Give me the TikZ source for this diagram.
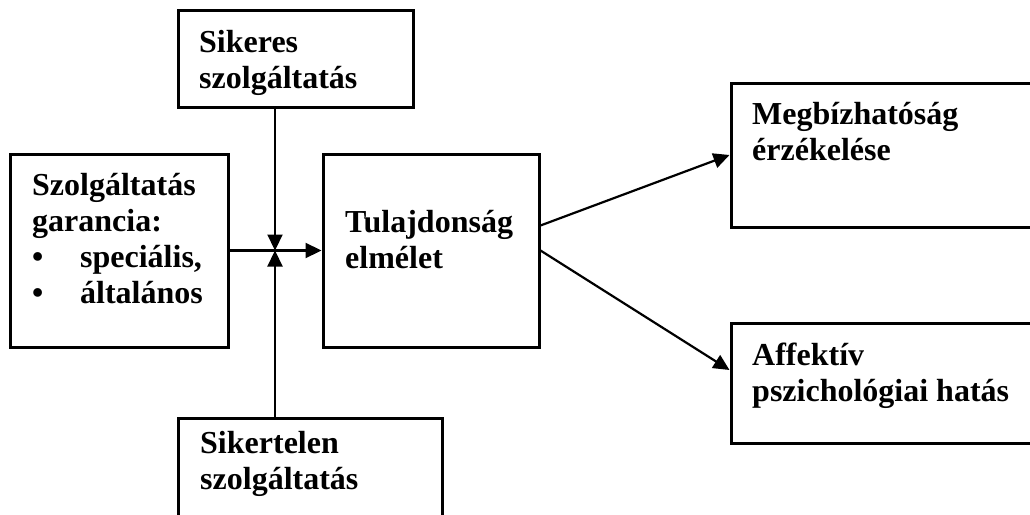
\documentclass[tikz,border=0pt]{standalone}
\usepackage{fontspec}
\setmainfont{Liberation Serif}
\usetikzlibrary{arrows.meta}
\begin{document}
\begin{tikzpicture}[x=1pt,y=-1pt,
  box/.style={draw, line width=3pt, inner sep=0pt, rectangle},
  lbl/.style={anchor=north west, inner sep=0pt, align=left,
    font=\fontsize{32}{36}\selectfont\bfseries},
  conn/.style={line width=2.2pt},
  arr/.style={conn, -{Triangle[length=16pt,width=15pt]}}]
\useasboundingbox (0,0) rectangle (1030,514);
\clip (0,0) rectangle (1030,514);
% boxes
\node[box, minimum width=235pt, minimum height=97pt] (sik) at (295.5,58.5) {};
\node[box, minimum width=218pt, minimum height=193pt] (gar) at (119,250.5) {};
\node[box, minimum width=216pt, minimum height=193pt] (tul) at (431,250.5) {};
\node[box, minimum width=314pt, minimum height=144pt] (meg) at (888,155) {};
\node[box, minimum width=314pt, minimum height=120pt] (aff) at (888,383) {};
\node[box, minimum width=264pt, minimum height=112pt] (sikt) at (310,474) {};
% texts
\node[lbl] (tsik) at (199,27) {\strut Sikeres\\szolgáltatás};
\node[lbl] (tgar) at (32,170) {\strut Szolgáltatás\\garancia:\\\makebox[48pt][l]{\textbullet}speciális,\\\makebox[48pt][l]{\textbullet}általános};
\node[lbl] (ttul) at (345,207) {\strut Tulajdonság\\elmélet};
\node[lbl] (tmeg) at (752,99) {\strut Megbízhatóság\\érzékelése};
\node[lbl] (taff) at (752,340) {\strut Affektív\\pszichológiai hatás};
\node[lbl] (tsikt) at (200,428) {\strut Sikertelen\\szolgáltatás};
% connectors
\coordinate (j) at (275,250.5);
\draw[arr] (gar.east) -- (tul.west);
\draw[arr] (sik.south -| j) -- (j);
\draw[arr] (sikt.north -| j) -- (j);
\draw[arr] ([yshift=25pt]tul.east) -- (meg.west);
\draw[arr] (tul.east) -- ([yshift=13pt]aff.west);
\end{tikzpicture}
\end{document}
